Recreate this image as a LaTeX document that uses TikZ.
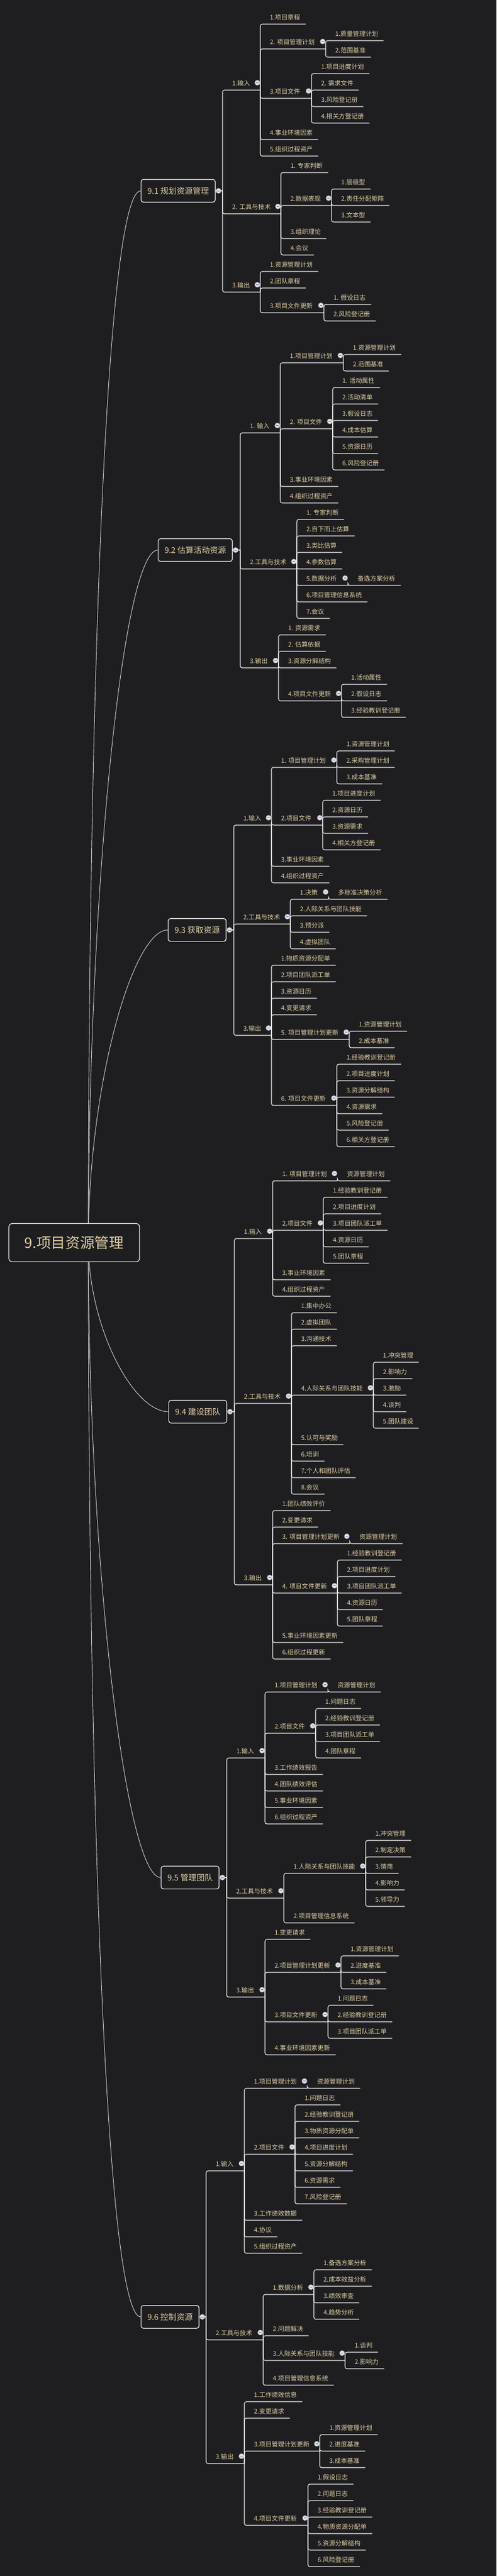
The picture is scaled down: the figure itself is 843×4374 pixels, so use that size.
\documentclass[tikz,border=0pt]{standalone}
\usepackage{fontspec}
\setmainfont{Noto Sans CJK SC}
\usetikzlibrary{calc}
\usetikzlibrary{backgrounds}

\definecolor{bgc}{RGB}{30,30,33}
\definecolor{txtc}{RGB}{222,206,162}
\definecolor{linec}{RGB}{236,236,236}
\definecolor{branchc}{RGB}{205,205,205}
\definecolor{knobc}{RGB}{226,228,236}
\definecolor{minusc}{RGB}{96,108,150}

% section box, its bar and the curve from the root
\newcommand{\mmsec}[5]{%
  \node[sec] (#1) at (#2,#3) {#5};
  \coordinate (#1-t) at (#4,#3);
  \draw[link] (#1.east) -- (#1-t);
  \begin{pgfonlayer}{background}
    \draw[branch] (r0) .. controls (150,{(2110+#3)/2}) and ({#2-60},#3) .. (#1.west);
  \end{pgfonlayer}
  \node[knob] at ($(#1.east)+(5,0)$) {};
}
% item with children: name, parent, underline y, bar x, text
\newcommand{\mmhub}[5]{%
  \node[lbl] (#1) at (#2-t |- 0,#3) {#5};
  \coordinate (#1-t) at (#4,#3);
  \draw[link] (#2-t) |- (#1-t);
  \node[knob] at ($(#1-t)+(-5,-12.5)$) {};
}
% end item: name, parent, underline y, text
\newcommand{\mmleaf}[4]{%
  \node[lbl] (#1) at (#2-t |- 0,#3) {#4};
  \coordinate (#1-t) at ($(#1.east)+(9,12)$);
  \draw[link] (#2-t) |- (#1-t);
}

\begin{document}
\begin{tikzpicture}[x=0.75pt,y=-0.75pt,
    lbl/.style={text=txtc, font=\fontsize{8}{9.6}\selectfont, inner sep=0pt, anchor=west, xshift=12pt, yshift=9pt},
    link/.style={draw=linec, line width=0.85pt, rounded corners=2.5pt},
    branch/.style={draw=branchc, line width=0.7pt},
    sec/.style={draw=linec, line width=0.9pt, rounded corners=3pt, fill=bgc, text=txtc,
      font=\fontsize{10.3}{12}\selectfont, anchor=west, inner xsep=8pt, minimum height=29pt},
    rootbox/.style={draw=linec, line width=0.9pt, rounded corners=4.5pt, fill=bgc, text=txtc,
      font=\fontsize{18.5}{22}\selectfont, minimum width=166.5pt, minimum height=48.75pt},
    knob/.style={circle, draw=gray!60, fill=knobc, inner sep=0pt, minimum size=6.5pt,
      path picture={\draw[minusc, line width=0.7pt] ([xshift=-1.7pt]path picture bounding box.center)
        -- ([xshift=1.7pt]path picture bounding box.center);}},
]
\begin{scope}[on background layer]
  \fill[bgc] (0,0) rectangle (843,4374);
\end{scope}

\node[rootbox] (root) at (126,2110) {9.项目资源管理};
\coordinate (r0) at ($(root.center)+(24,0)$);

% 9.1
\mmsec{s1}{239}{324}{378}{9.1 规划资源管理}
\mmhub{a1}{s1}{153}{442}{1.输入}
\mmleaf{a11}{a1}{41}{1.项目章程}
\mmhub{a12}{a1}{83}{553}{2. 项目管理计划}
\mmleaf{a121}{a12}{69}{1.质量管理计划}
\mmleaf{a122}{a12}{97}{2.范围基准}
\mmhub{a13}{a1}{167}{529}{3.项目文件}
\mmleaf{a131}{a13}{125}{1.项目进度计划}
\mmleaf{a132}{a13}{153}{2. 需求文件}
\mmleaf{a133}{a13}{181}{3.风险登记册}
\mmleaf{a134}{a13}{209}{4.相关方登记册}
\mmleaf{a14}{a1}{237}{4.事业环境因素}
\mmleaf{a15}{a1}{265}{5.组织过程资产}
\mmhub{a2}{s1}{363}{477}{2. 工具与技术}
\mmleaf{a21}{a2}{293}{1. 专家判断}
\mmhub{a22}{a2}{349}{563}{2.数据表现}
\mmleaf{a221}{a22}{321}{1.层级型}
\mmleaf{a222}{a22}{349}{2.责任分配矩阵}
\mmleaf{a223}{a22}{377}{3.文本型}
\mmleaf{a23}{a2}{405}{3.组织理论}
\mmleaf{a24}{a2}{433}{4.会议}
\mmhub{a3}{s1}{496}{442}{3.输出}
\mmleaf{a31}{a3}{461}{1.资源管理计划}
\mmleaf{a32}{a3}{489}{2.团队章程}
\mmhub{a33}{a3}{531}{550}{3.项目文件更新}
\mmleaf{a331}{a33}{517}{1. 假设日志}
\mmleaf{a332}{a33}{545}{2.风险登记册}

% 9.2
\mmsec{s2}{268}{934}{408}{9.2 估算活动资源}
\mmhub{b1}{s2}{735}{476}{1. 输入}
\mmhub{b11}{b1}{616}{583}{1.项目管理计划}
\mmleaf{b111}{b11}{602}{1.资源管理计划}
\mmleaf{b112}{b11}{630}{2.范围基准}
\mmhub{b12}{b1}{728}{565}{2. 项目文件}
\mmleaf{b121}{b12}{658}{1. 活动属性}
\mmleaf{b122}{b12}{686}{2.活动清单}
\mmleaf{b123}{b12}{714}{3.假设日志}
\mmleaf{b124}{b12}{742}{4.成本估算}
\mmleaf{b125}{b12}{770}{5.资源日历}
\mmleaf{b126}{b12}{798}{6.风险登记册}
\mmleaf{b13}{b1}{826}{3.事业环境因素}
\mmleaf{b14}{b1}{854}{4.组织过程资产}
\mmhub{b2}{s2}{966}{504}{2.工具与技术}
\mmleaf{b21}{b2}{882}{1. 专家判断}
\mmleaf{b22}{b2}{910}{2.自下而上估算}
\mmleaf{b23}{b2}{938}{3.类比估算}
\mmleaf{b24}{b2}{966}{4.参数估算}
\mmhub{b25}{b2}{994}{591}{5.数据分析}
\mmleaf{b251}{b25}{994}{备选方案分析}
\mmleaf{b26}{b2}{1022}{6.项目管理信息系统}
\mmleaf{b27}{b2}{1050}{7.会议}
\mmhub{b3}{s2}{1134}{473}{3.输出}
\mmleaf{b31}{b3}{1078}{1. 资源需求}
\mmleaf{b32}{b3}{1106}{2. 估算依据}
\mmleaf{b33}{b3}{1134}{3.资源分解结构}
\mmhub{b34}{b3}{1190}{580}{4.项目文件更新}
\mmleaf{b341}{b34}{1162}{1.活动属性}
\mmleaf{b342}{b34}{1190}{2.假设日志}
\mmleaf{b343}{b34}{1218}{3.经验教训登记册}

% 9.3
\mmsec{s3}{285}{1579}{397}{9.3 获取资源}
\mmhub{c1}{s3}{1401}{461}{1.输入}
\mmhub{c11}{c1}{1303}{572}{1. 项目管理计划}
\mmleaf{c111}{c11}{1275}{1.资源管理计划}
\mmleaf{c112}{c11}{1303}{2.采购管理计划}
\mmleaf{c113}{c11}{1331}{3.成本基准}
\mmhub{c12}{c1}{1401}{548}{2.项目文件}
\mmleaf{c121}{c12}{1359}{1.项目进度计划}
\mmleaf{c122}{c12}{1387}{2.资源日历}
\mmleaf{c123}{c12}{1415}{3.资源需求}
\mmleaf{c124}{c12}{1443}{4.相关方登记册}
\mmleaf{c13}{c1}{1471}{3.事业环境因素}
\mmleaf{c14}{c1}{1499}{4.组织过程资产}
\mmhub{c2}{s3}{1569}{493}{2.工具与技术}
\mmhub{c21}{c2}{1527}{558}{1.决策}
\mmleaf{c211}{c21}{1527}{多标准决策分析}
\mmleaf{c22}{c2}{1555}{2.人际关系与团队技能}
\mmleaf{c23}{c2}{1583}{3.预分派}
\mmleaf{c24}{c2}{1611}{4.虚拟团队}
\mmhub{c3}{s3}{1758}{461}{3.输出}
\mmleaf{c31}{c3}{1639}{1.物质资源分配单}
\mmleaf{c32}{c3}{1667}{2.项目团队派工单}
\mmleaf{c33}{c3}{1695}{3.资源日历}
\mmleaf{c34}{c3}{1723}{4.变更请求}
\mmhub{c35}{c3}{1765}{593}{5. 项目管理计划更新}
\mmleaf{c351}{c35}{1751}{1.资源管理计划}
\mmleaf{c352}{c35}{1779}{2.成本基准}
\mmhub{c36}{c3}{1877}{572}{6. 项目文件更新}
\mmleaf{c361}{c36}{1807}{1.经验教训登记册}
\mmleaf{c362}{c36}{1835}{2.项目进度计划}
\mmleaf{c363}{c36}{1863}{3.资源分解结构}
\mmleaf{c364}{c36}{1891}{4.资源需求}
\mmleaf{c365}{c36}{1919}{5.风险登记册}
\mmleaf{c366}{c36}{1947}{6.相关方登记册}

% 9.4
\mmsec{s4}{286}{2397}{398}{9.4 建设团队}
\mmhub{d1}{s4}{2103}{463}{1.输入}
\mmhub{d11}{d1}{2005}{573}{1. 项目管理计划}
\mmleaf{d111}{d11}{2005}{资源管理计划}
\mmhub{d12}{d1}{2089}{549}{2.项目文件}
\mmleaf{d121}{d12}{2033}{1.经验教训登记册}
\mmleaf{d122}{d12}{2061}{2.项目进度计划}
\mmleaf{d123}{d12}{2089}{3.项目团队派工单}
\mmleaf{d124}{d12}{2117}{4.资源日历}
\mmleaf{d125}{d12}{2145}{5.团队章程}
\mmleaf{d13}{d1}{2173}{3.事业环境因素}
\mmleaf{d14}{d1}{2201}{4.组织过程资产}
\mmhub{d2}{s4}{2383}{495}{2.工具与技术}
\mmleaf{d21}{d2}{2229}{1.集中办公}
\mmleaf{d22}{d2}{2257}{2.虚拟团队}
\mmleaf{d23}{d2}{2285}{3.沟通技术}
\mmhub{d24}{d2}{2369}{634}{4.人际关系与团队技能}
\mmleaf{d241}{d24}{2313}{1.冲突管理}
\mmleaf{d242}{d24}{2341}{2.影响力}
\mmleaf{d243}{d24}{2369}{3.激励}
\mmleaf{d244}{d24}{2397}{4.谈判}
\mmleaf{d245}{d24}{2425}{5.团队建设}
\mmleaf{d25}{d2}{2453}{5.认可与奖励}
\mmleaf{d26}{d2}{2481}{6.培训}
\mmleaf{d27}{d2}{2509}{7.个人和团队评估}
\mmleaf{d28}{d2}{2537}{8.会议}
\mmhub{d3}{s4}{2691}{463}{3.输出}
\mmleaf{d31}{d3}{2565}{1.团队绩效评价}
\mmleaf{d32}{d3}{2593}{2.变更请求}
\mmhub{d33}{d3}{2621}{594}{3. 项目管理计划更新}
\mmleaf{d331}{d33}{2621}{资源管理计划}
\mmhub{d34}{d3}{2705}{573}{4. 项目文件更新}
\mmleaf{d341}{d34}{2649}{1.经验教训登记册}
\mmleaf{d342}{d34}{2677}{2.项目进度计划}
\mmleaf{d343}{d34}{2705}{3.项目团队派工单}
\mmleaf{d344}{d34}{2733}{4.资源日历}
\mmleaf{d345}{d34}{2761}{5.团队章程}
\mmleaf{d35}{d3}{2789}{5.事业环境因素更新}
\mmleaf{d36}{d3}{2817}{6.组织过程更新}

% 9.5
\mmsec{s5}{273}{3188}{385}{9.5 管理团队}
\mmhub{e1}{s5}{2985}{450}{1.输入}
\mmhub{e11}{e1}{2873}{557}{1.项目管理计划}
\mmleaf{e111}{e11}{2873}{资源管理计划}
\mmhub{e12}{e1}{2943}{536}{2.项目文件}
\mmleaf{e121}{e12}{2901}{1.问题日志}
\mmleaf{e122}{e12}{2929}{2.经验教训登记册}
\mmleaf{e123}{e12}{2957}{3.项目团队派工单}
\mmleaf{e124}{e12}{2985}{4.团队章程}
\mmleaf{e13}{e1}{3013}{3.工作绩效报告}
\mmleaf{e14}{e1}{3041}{4.团队绩效评估}
\mmleaf{e15}{e1}{3069}{5.事业环境因素}
\mmleaf{e16}{e1}{3097}{6.组织过程资产}
\mmhub{e2}{s5}{3223}{482}{2.工具与技术}
\mmhub{e21}{e2}{3181}{621}{1.人际关系与团队技能}
\mmleaf{e211}{e21}{3125}{1.冲突管理}
\mmleaf{e212}{e21}{3153}{2.制定决策}
\mmleaf{e213}{e21}{3181}{3.情商}
\mmleaf{e214}{e21}{3209}{4.影响力}
\mmleaf{e215}{e21}{3237}{5.领导力}
\mmleaf{e22}{e2}{3265}{2.项目管理信息系统}
\mmhub{e3}{s5}{3391}{450}{3.输出}
\mmleaf{e31}{e3}{3293}{1.变更请求}
\mmhub{e32}{e3}{3349}{579}{2.项目管理计划更新}
\mmleaf{e321}{e32}{3321}{1.资源管理计划}
\mmleaf{e322}{e32}{3349}{2.进度基准}
\mmleaf{e323}{e32}{3377}{3.成本基准}
\mmhub{e33}{e3}{3433}{557}{3.项目文件更新}
\mmleaf{e331}{e33}{3405}{1.问题日志}
\mmleaf{e332}{e33}{3433}{2.经验教训登记册}
\mmleaf{e333}{e33}{3461}{3.项目团队派工单}
\mmleaf{e34}{e3}{3489}{4.事业环境因素更新}

% 9.6
\mmsec{s6}{239}{3934}{350}{9.6 控制资源}
\mmhub{f1}{s6}{3686}{415}{1.输入}
\mmhub{f11}{f1}{3546}{522}{1.项目管理计划}
\mmleaf{f111}{f11}{3546}{资源管理计划}
\mmhub{f12}{f1}{3658}{501}{2.项目文件}
\mmleaf{f121}{f12}{3574}{1.问题日志}
\mmleaf{f122}{f12}{3602}{2.经验教训登记册}
\mmleaf{f123}{f12}{3630}{3.物质资源分配单}
\mmleaf{f124}{f12}{3658}{4.项目进度计划}
\mmleaf{f125}{f12}{3686}{5.资源分解结构}
\mmleaf{f126}{f12}{3714}{6.资源需求}
\mmleaf{f127}{f12}{3742}{7.风险登记册}
\mmleaf{f13}{f1}{3770}{3.工作绩效数据}
\mmleaf{f14}{f1}{3798}{4.协议}
\mmleaf{f15}{f1}{3826}{5.组织过程资产}
\mmhub{f2}{s6}{3973}{447}{2.工具与技术}
\mmhub{f21}{f2}{3896}{533}{1.数据分析}
\mmleaf{f211}{f21}{3854}{1.备选方案分析}
\mmleaf{f212}{f21}{3882}{2.成本效益分析}
\mmleaf{f213}{f21}{3910}{3.绩效审查}
\mmleaf{f214}{f21}{3938}{4.趋势分析}
\mmleaf{f22}{f2}{3966}{2.问题解决}
\mmhub{f23}{f2}{4008}{586}{3.人际关系与团队技能}
\mmleaf{f231}{f23}{3994}{1.谈判}
\mmleaf{f232}{f23}{4022}{2.影响力}
\mmleaf{f24}{f2}{4050}{4.项目管理信息系统}
\mmhub{f3}{s6}{4183}{415}{3.输出}
\mmleaf{f31}{f3}{4078}{1.工作绩效信息}
\mmleaf{f32}{f3}{4106}{2.变更请求}
\mmhub{f33}{f3}{4162}{543}{3.项目管理计划更新}
\mmleaf{f331}{f33}{4134}{1.资源管理计划}
\mmleaf{f332}{f33}{4162}{2.进度基准}
\mmleaf{f333}{f33}{4190}{3.成本基准}
\mmhub{f34}{f3}{4288}{523}{4.项目文件更新}
\mmleaf{f341}{f34}{4218}{1.假设日志}
\mmleaf{f342}{f34}{4246}{2.问题日志}
\mmleaf{f343}{f34}{4274}{3.经验教训登记册}
\mmleaf{f344}{f34}{4302}{4.物质资源分配单}
\mmleaf{f345}{f34}{4330}{5.资源分解结构}
\mmleaf{f346}{f34}{4358}{6.风险登记册}
\end{tikzpicture}
\end{document}
